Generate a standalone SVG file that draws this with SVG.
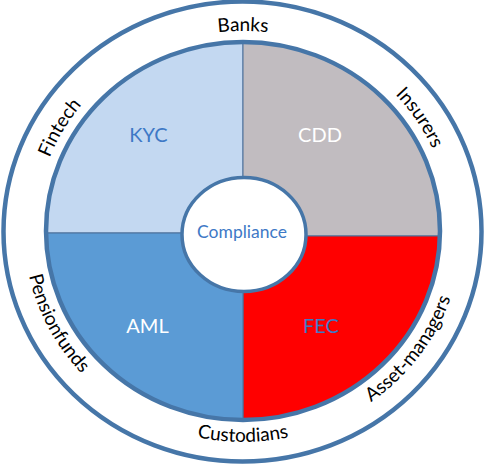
<svg xmlns="http://www.w3.org/2000/svg" xmlns:xlink="http://www.w3.org/1999/xlink" width="500" height="466" viewBox="0 0 500 466">
<style>
.ring{fill:none;stroke:#4676A8;stroke-width:4.5}
.quad{stroke:#4A6F98;stroke-width:1}
.lbl{font-family:Lato,"Open Sans","Liberation Sans",sans-serif;font-size:20px;text-anchor:middle}
.rl{font-family:Lato,"Open Sans","Liberation Sans",sans-serif;font-size:19px;fill:#000;text-anchor:middle}
.blue{fill:#3E79C6}
.white{fill:#FFFFFF}
</style>
<defs>
<path id="topArc" d="M35,231 A208,200 0 0 1 451,231 A208,200 0 0 1 35,231"/>
<path id="botArc" d="M24,231 A219,211 0 0 0 462,231 A219,211 0 0 0 24,231"/>
</defs>
<rect width="500" height="466" fill="#FFFFFF"/>
<g id="outer-ring">
<ellipse cx="242.5" cy="231.5" rx="239" ry="230" fill="#FFFFFF" stroke="#4676A8" stroke-width="4.5"/>
</g>
<g id="kyc">
<path class="quad" d="M243,233 L46,233 A197,189 0 0 1 243,42 Z" fill="#C3D8F1"/>
<text class="lbl blue" x="148.5" y="142">KYC</text>
</g>
<g id="cdd">
<path class="quad" d="M243,236 L243,42 A197,189 0 0 1 440,236 Z" fill="#C1BCC0"/>
<text class="lbl white" x="320" y="142">CDD</text>
</g>
<g id="fec">
<path class="quad" d="M243,236 L440,236 A197,189 0 0 1 243,420 Z" fill="#FF0000"/>
<text class="lbl blue" x="321" y="333">FEC</text>
</g>
<g id="aml">
<path class="quad" d="M243,233 L243,420 A197,189 0 0 1 46,233 Z" fill="#5B9BD5"/>
<text class="lbl white" x="147.5" y="333">AML</text>
</g>
<g id="inner-ring">
<ellipse class="ring" cx="243" cy="231" rx="197" ry="189"/>
</g>
<g id="compliance">
<ellipse cx="244" cy="234.5" rx="62" ry="57" fill="#FFFFFF" stroke="#4676A8" stroke-width="3.5"/>
<text class="lbl blue" x="242" y="238" style="font-size:17.5px">Compliance</text>
</g>
<g id="banks">
<text class="rl"><textPath xlink:href="#topArc" href="#topArc" startOffset="25%">Banks</textPath></text>
</g>
<g id="fintech">
<text class="rl"><textPath xlink:href="#topArc" href="#topArc" startOffset="8.3%">Fintech</textPath></text>
</g>
<g id="insurers">
<text class="rl"><textPath xlink:href="#topArc" href="#topArc" startOffset="40.8%">Insurers</textPath></text>
</g>
<g id="pensionfunds">
<text class="rl"><textPath xlink:href="#botArc" href="#botArc" startOffset="7.5%">Pensionfunds</textPath></text>
</g>
<g id="custodians">
<text class="rl"><textPath xlink:href="#botArc" href="#botArc" startOffset="25%">Custodians</textPath></text>
</g>
<g id="asset-managers">
<text class="rl"><textPath xlink:href="#botArc" href="#botArc" startOffset="40%">Asset-managers</textPath></text>
</g>
</svg>
